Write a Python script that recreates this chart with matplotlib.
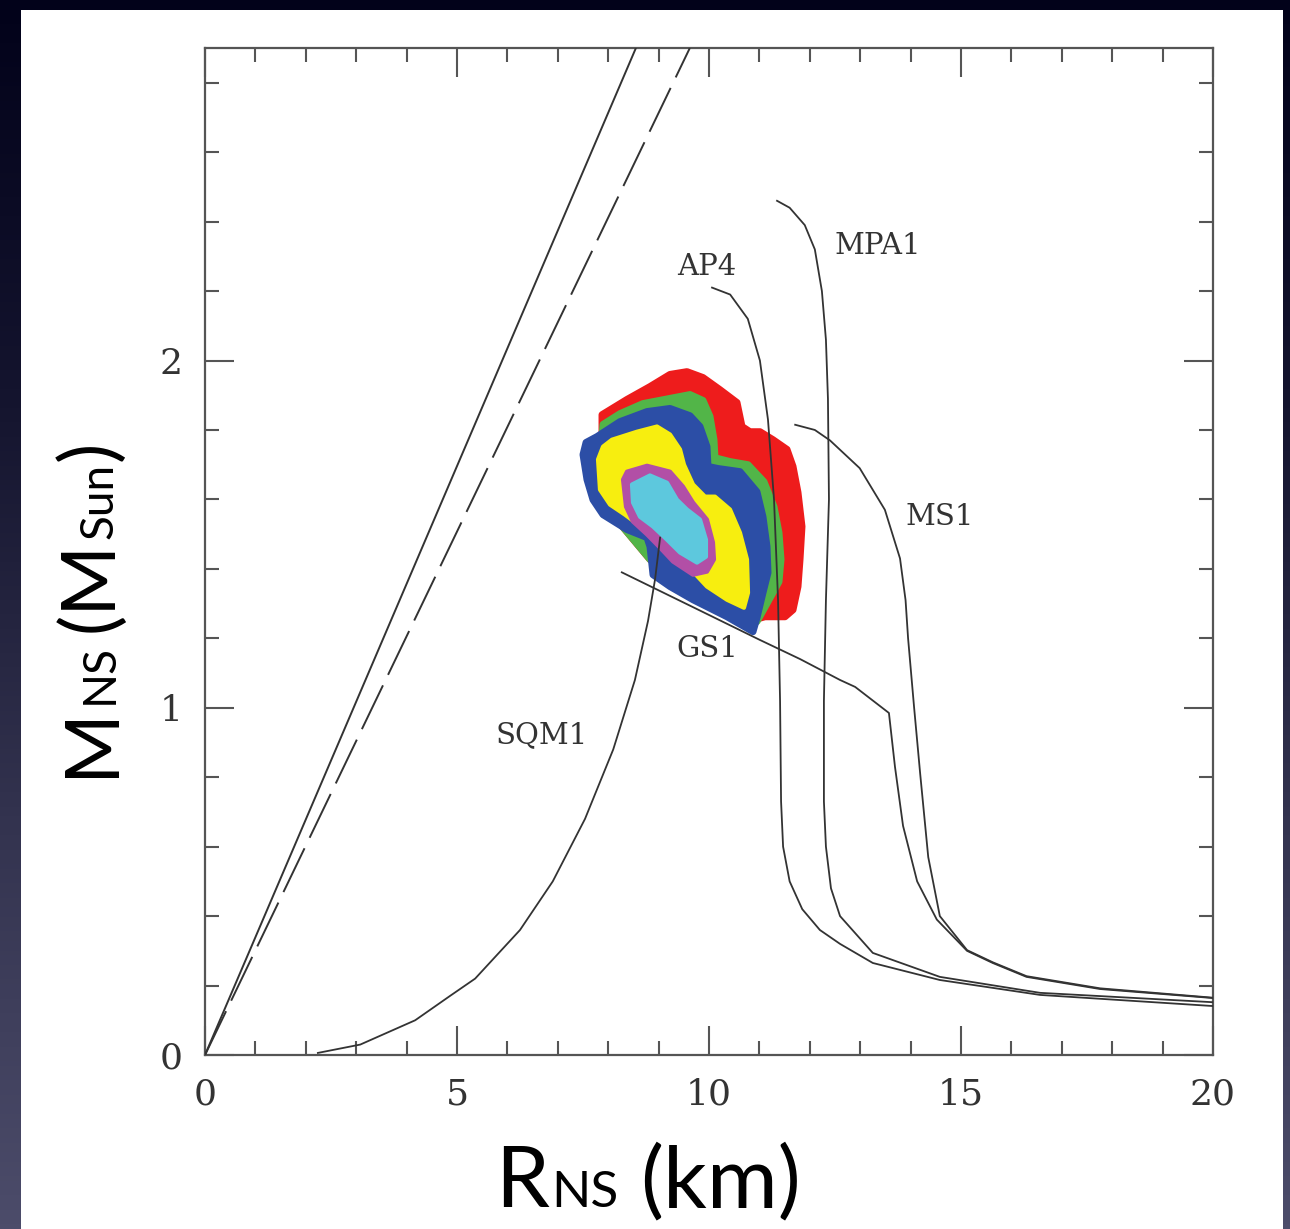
import matplotlib
matplotlib.use("Agg")
import matplotlib.pyplot as plt
import numpy as np
from matplotlib.colors import LinearSegmentedColormap
from matplotlib.patches import Rectangle
from matplotlib.transforms import IdentityTransform

# ---------------- data ----------------
# limiting lines (R in km, M in Msun)
LIMIT_M = [0.0, 2.9]
SCHWARZ_R = [0.0, 8.55]     # solid
BUCHDAHL_R = [0.0, 9.62]    # dashed

SQM1_R = [2.24, 3.08, 4.17, 4.86, 5.36, 6.25, 6.90, 7.54, 8.10, 8.53, 8.79, 8.93, 9.03]
SQM1_M = [0.006, 0.03, 0.10, 0.17, 0.22, 0.36, 0.50, 0.68, 0.88, 1.08, 1.25, 1.37, 1.49]

GS1_R = [8.27, 9.82, 11.0, 11.81, 12.6, 12.9, 13.57, 13.69, 13.85, 14.13, 14.52, 15.12, 15.63, 16.3, 17.76, 20.0]
GS1_M = [1.39, 1.28, 1.196, 1.14, 1.08, 1.06, 0.985, 0.83, 0.66, 0.50, 0.39, 0.30, 0.265, 0.225, 0.19, 0.164]

MS1_R = [11.71, 12.1, 12.4, 12.99, 13.49, 13.79, 13.9, 13.95, 14.07, 14.19, 14.35, 14.58, 15.12, 15.63, 16.3, 17.76, 20.0]
MS1_M = [1.815, 1.80, 1.77, 1.69, 1.57, 1.43, 1.31, 1.20, 1.00, 0.81, 0.57, 0.40, 0.302, 0.267, 0.227, 0.192, 0.165]

AP4_R = [10.06, 10.42, 10.77, 11.01, 11.17, 11.29, 11.37, 11.41, 11.43, 11.47, 11.6, 11.85, 12.2, 12.6, 13.25, 14.58, 16.57, 20.0]
AP4_M = [2.21, 2.19, 2.12, 2.00, 1.83, 1.60, 1.31, 1.02, 0.73, 0.60, 0.50, 0.42, 0.36, 0.32, 0.265, 0.216, 0.173, 0.141]

MPA1_R = [11.35, 11.6, 11.9, 12.1, 12.24, 12.32, 12.36, 12.38, 12.32, 12.28, 12.28, 12.32, 12.42, 12.6, 13.25, 14.58, 16.57, 20.0]
MPA1_M = [2.46, 2.44, 2.39, 2.32, 2.20, 2.06, 1.89, 1.60, 1.31, 1.02, 0.73, 0.60, 0.48, 0.40, 0.294, 0.225, 0.179, 0.152]

CURVE_LABELS = ["MPA1", "AP4", "MS1", "GS1", "SQM1"]
LABEL_R = [13.35, 9.96, 14.58, 9.96, 6.67]
LABEL_M = [2.33, 2.27, 1.55, 1.17, 0.92]

# confidence regions (outer to inner)
RED_R = [7.877, 7.877, 8.373, 8.829, 9.226, 9.563, 9.881, 10.218, 10.556, 10.655, 10.813, 11.012, 11.270, 11.548, 11.667, 11.766, 11.845, 11.806, 11.766, 11.667, 11.508, 11.111, 10.913, 9.821, 8.829, 7.837]
RED_M = [1.758, 1.844, 1.888, 1.925, 1.960, 1.968, 1.951, 1.916, 1.879, 1.810, 1.795, 1.795, 1.772, 1.744, 1.695, 1.620, 1.522, 1.427, 1.349, 1.282, 1.262, 1.262, 1.254, 1.326, 1.427, 1.599]

GREEN_R = [7.837, 7.897, 8.234, 8.690, 9.623, 9.881, 10.020, 10.099, 10.119, 10.417, 10.774, 11.091, 11.290, 11.389, 11.429, 11.389, 11.250, 10.952, 9.821, 8.829, 7.837]
GREEN_M = [1.715, 1.816, 1.847, 1.876, 1.902, 1.885, 1.839, 1.772, 1.720, 1.709, 1.700, 1.651, 1.579, 1.504, 1.427, 1.363, 1.326, 1.248, 1.326, 1.427, 1.599]

BLUE_R = [7.500, 7.560, 7.778, 8.234, 8.770, 9.226, 9.623, 9.821, 9.960, 9.980, 10.179, 10.615, 10.952, 11.071, 11.151, 11.171, 11.071, 10.952, 10.873, 10.357, 9.683, 9.226, 8.889, 8.829, 8.770, 8.373, 7.897, 7.698, 7.579]
BLUE_M = [1.729, 1.764, 1.781, 1.824, 1.853, 1.862, 1.841, 1.810, 1.752, 1.695, 1.689, 1.680, 1.622, 1.550, 1.464, 1.389, 1.331, 1.259, 1.219, 1.262, 1.311, 1.349, 1.383, 1.464, 1.490, 1.513, 1.556, 1.599, 1.657]

YELLOW_R = [7.798, 7.897, 8.075, 8.571, 8.968, 9.226, 9.425, 9.504, 9.683, 9.921, 10.119, 10.417, 10.615, 10.754, 10.774, 10.694, 10.357, 9.960, 9.683, 9.226, 8.730, 8.333, 8.036, 7.837]
YELLOW_M = [1.715, 1.752, 1.772, 1.795, 1.810, 1.787, 1.744, 1.700, 1.643, 1.608, 1.608, 1.571, 1.504, 1.427, 1.331, 1.288, 1.311, 1.349, 1.392, 1.450, 1.513, 1.556, 1.585, 1.628]

MAGENTA_R = [8.294, 8.373, 8.770, 9.226, 9.484, 9.683, 9.960, 10.079, 10.099, 9.960, 9.683, 9.286, 9.028, 8.770, 8.492, 8.353]
MAGENTA_M = [1.657, 1.680, 1.697, 1.680, 1.637, 1.591, 1.542, 1.476, 1.427, 1.392, 1.383, 1.421, 1.461, 1.499, 1.536, 1.579]

CYAN_R = [8.472, 8.829, 9.167, 9.365, 9.563, 9.821, 9.940, 9.940, 9.762, 9.425, 9.167, 8.889, 8.631, 8.492]
CYAN_M = [1.643, 1.669, 1.648, 1.599, 1.571, 1.542, 1.484, 1.435, 1.418, 1.447, 1.484, 1.522, 1.550, 1.591]

REGIONS = [(RED_R, RED_M, "#ee1c1c"), (GREEN_R, GREEN_M, "#52b548"),
           (BLUE_R, BLUE_M, "#2c4ea6"), (YELLOW_R, YELLOW_M, "#f7ee0f"),
           (MAGENTA_R, MAGENTA_M, "#b24fa6"), (CYAN_R, CYAN_M, "#5dc8dd")]

X_MAJOR = [0, 5, 10, 15, 20]
Y_MAJOR = [0, 1, 2]

# ---------------- figure ----------------
W, H = 1290, 1229
fig = plt.figure(figsize=(W / 100, H / 100), dpi=100)
fig.patch.set_facecolor("#0b0b22")

bg = fig.add_axes([0, 0, 1, 1], zorder=-10)
bg.set_axis_off()
cmap = LinearSegmentedColormap.from_list("bg", ["#02021a", "#15152f", "#33334f", "#4c4c6a"])
bg.imshow(np.linspace(0, 1, 256)[:, None], aspect="auto", cmap=cmap,
          extent=[0, 1, 0, 1], origin="upper")
bg.add_patch(Rectangle((21 / W, 0), (1283 - 21) / W, (H - 10) / H,
                       transform=bg.transAxes, facecolor="white", edgecolor="none"))
bg.set_xlim(0, 1)
bg.set_ylim(0, 1)

ax = fig.add_axes([205 / W, 174 / H, 1008 / W, 1007 / H])
ax.set_facecolor("white")
ax.set_xlim(0, 20)
ax.set_ylim(0, 2.9)

for i, (rr, mm, col) in enumerate(REGIONS):
    lw = 5 if i < 3 else 3
    ax.fill(rr, mm, facecolor=col, edgecolor=col, linewidth=lw, joinstyle="round", zorder=2)

lc = "#333333"
ax.plot(SCHWARZ_R, LIMIT_M, color=lc, lw=1.4, zorder=3)
ax.plot(BUCHDAHL_R, LIMIT_M, color=lc, lw=1.4, dashes=(25, 6), zorder=3)
for rr, mm in [(SQM1_R, SQM1_M), (GS1_R, GS1_M), (MS1_R, MS1_M), (AP4_R, AP4_M), (MPA1_R, MPA1_M)]:
    ax.plot(rr, mm, color=lc, lw=1.3, zorder=3, solid_joinstyle="round")

for s, xr, ym in zip(CURVE_LABELS, LABEL_R, LABEL_M):
    ax.text(xr, ym, s, family="DejaVu Serif", fontsize=21, color="#333333",
            ha="center", va="center", zorder=4)

ax.set_xticks(X_MAJOR)
ax.set_yticks(Y_MAJOR)
ax.set_xticks(np.arange(0, 21, 1), minor=True)
ax.set_yticks(np.arange(0, 2.9, 0.2), minor=True)
ax.set_xticklabels([str(v) for v in X_MAJOR])
ax.set_yticklabels([str(v) for v in Y_MAJOR])
ax.tick_params(which="both", direction="in", top=True, right=True,
               color="#555555", width=1.5, labelcolor="#333333")
ax.tick_params(which="major", length=21, labelsize=26)
ax.tick_params(which="minor", length=10)
ax.tick_params(axis="x", which="major", pad=16)
ax.tick_params(axis="y", which="major", pad=16)
for lab in ax.get_xticklabels() + ax.get_yticklabels():
    lab.set_family("DejaVu Serif")
for sp in ax.spines.values():
    sp.set_color("#555555")
    sp.set_linewidth(1.6)

# ---------------- axis titles composed from text pieces ----------------
renderer = fig.canvas.get_renderer()
ident = IdentityTransform()
FONT = "Lato"


def compose(pieces, x, y, rotation=0):
    for s, fs, gap in pieces:
        if rotation == 0:
            x += gap
        else:
            y += gap
        t = fig.text(x, y, s, fontsize=fs, family=FONT, color="black",
                     ha="left", va="baseline", rotation=rotation,
                     rotation_mode="anchor", transform=ident)
        bb = t.get_window_extent(renderer)
        if rotation == 0:
            x = bb.x1
        else:
            y = bb.y1


compose([("R", 62, 0), ("NS", 37, 2), ("(km)", 62, 22)], 495, H - 1207)
compose([("M", 55, 0), ("NS", 33, 2), ("(M", 55, 12), ("Sun", 33, 2), (")", 55, 2)],
        113, H - 777, rotation=90)

fig.savefig("out.png", dpi=100, facecolor=fig.get_facecolor())
